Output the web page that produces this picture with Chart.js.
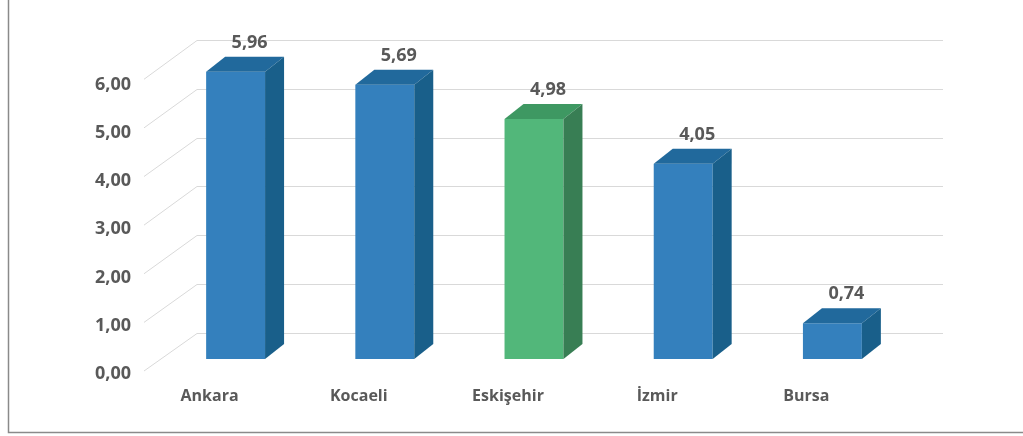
<!DOCTYPE html>
<html><head><meta charset="utf-8">
<script src="https://cdn.jsdelivr.net/npm/chart.js@4/dist/chart.umd.min.js"></script>
<style>html,body{margin:0;padding:0;background:#fff;overflow:hidden}#wrap{width:1023px;height:436px;position:relative}</style>
</head><body><div id="wrap"><canvas id="c" width="1023" height="436"></canvas></div>
<script>
const categories = ['Ankara', 'Kocaeli', 'Eskişehir', 'İzmir', 'Bursa'];
const values = [5.96, 5.69, 4.98, 4.05, 0.74];
const yTickValues = [0, 1, 2, 3, 4, 5, 6];
const highlighted = ['Eskişehir'];

const fmt = v => v.toFixed(2).replace('.', ',');
const NUM_FONT = { family: "'Open Sans'", weight: 'bold', size: 18 };
const CAT_FONT = { family: "'Open Sans'", weight: 'bold', size: 16 };
const TEXT = '#595959';
const BLUE = { front: '#3480BD', top: '#21699C', side: '#195F8A' };
const GREEN = { front: '#52B77A', top: '#3E9862', side: '#387E54' };
const pal = i => highlighted.includes(categories[i]) ? GREEN : BLUE;
const DX = 19, DY = -15;

const plugin3d = {
  id: 'p3d',
  beforeDraw(chart) {
    const ctx = chart.ctx;
    ctx.save();
    ctx.strokeStyle = '#8a8a8a';
    ctx.lineWidth = 1.5;
    ctx.beginPath();
    ctx.moveTo(8.5, 0); ctx.lineTo(8.5, 432.5); ctx.lineTo(1023, 432.5);
    ctx.stroke();
    ctx.restore();
  },
  beforeDatasetsDraw(chart) {
    const { ctx, chartArea: a, scales: { y } } = chart;
    ctx.save();
    ctx.strokeStyle = '#D9D9D9';
    ctx.lineWidth = 1;
    yTickValues.forEach(v => {
      const py = y.getPixelForValue(v);
      const by = Math.round(py - 26.3 - 0.53 * v) + 0.5;
      const fy = py + 12 - 0.41 * v;
      ctx.beginPath();
      ctx.moveTo(a.left - 17, fy);
      ctx.lineTo(a.left + 36, by);
      ctx.lineTo(a.right + 36, by);
      ctx.stroke();
    });
    ctx.restore();
  },
  afterDatasetsDraw(chart) {
    const ctx = chart.ctx;
    const meta = chart.getDatasetMeta(0);
    ctx.save();
    meta.data.forEach((bar, i) => {
      const { x, y: top, base, width } = bar.getProps(['x', 'y', 'base', 'width'], true);
      const l = x - width / 2, r = x + width / 2;
      const c = pal(i);
      ctx.fillStyle = c.top;
      ctx.beginPath();
      ctx.moveTo(l, top); ctx.lineTo(l + DX, top + DY); ctx.lineTo(r + DX, top + DY); ctx.lineTo(r, top);
      ctx.closePath(); ctx.fill();
      ctx.fillStyle = c.side;
      ctx.beginPath();
      ctx.moveTo(r, top); ctx.lineTo(r + DX, top + DY); ctx.lineTo(r + DX, base + DY); ctx.lineTo(r, base);
      ctx.closePath(); ctx.fill();
      ctx.fillStyle = TEXT;
      ctx.font = `bold ${NUM_FONT.size}px ${NUM_FONT.family}`;
      ctx.textAlign = 'center';
      ctx.textBaseline = 'middle';
      ctx.fillText(fmt(values[i]), x + 14, top - 29);
    });
    ctx.restore();
  }
};

new Chart(document.getElementById('c'), {
  type: 'bar',
  data: {
    labels: categories,
    datasets: [{
      data: values,
      backgroundColor: values.map((_, i) => pal(i).front),
      borderWidth: 0,
      barPercentage: 1,
      categoryPercentage: 0.395
    }]
  },
  options: {
    responsive: false,
    animation: false,
    devicePixelRatio: 1,
    layout: { padding: { left: 0, top: 38, right: 116, bottom: 0 } },
    plugins: { legend: { display: false }, tooltip: { enabled: false } },
    scales: {
      x: {
        grid: { display: false, drawTicks: false },
        border: { display: false },
        afterFit: s => { s.height = 77; },
        ticks: { color: TEXT, font: CAT_FONT, padding: 28, labelOffset: -26, maxRotation: 0 }
      },
      y: {
        min: 0, max: 6.6,
        grid: { display: false, drawTicks: false },
        border: { display: false },
        afterFit: s => { s.width = 161; },
        afterBuildTicks: s => { s.ticks = yTickValues.map(v => ({ value: v })); },
        ticks: { color: TEXT, font: NUM_FONT, padding: 30, labelOffset: 15, callback: v => fmt(v) }
      }
    }
  },
  plugins: [plugin3d]
});
</script>
</body></html>
